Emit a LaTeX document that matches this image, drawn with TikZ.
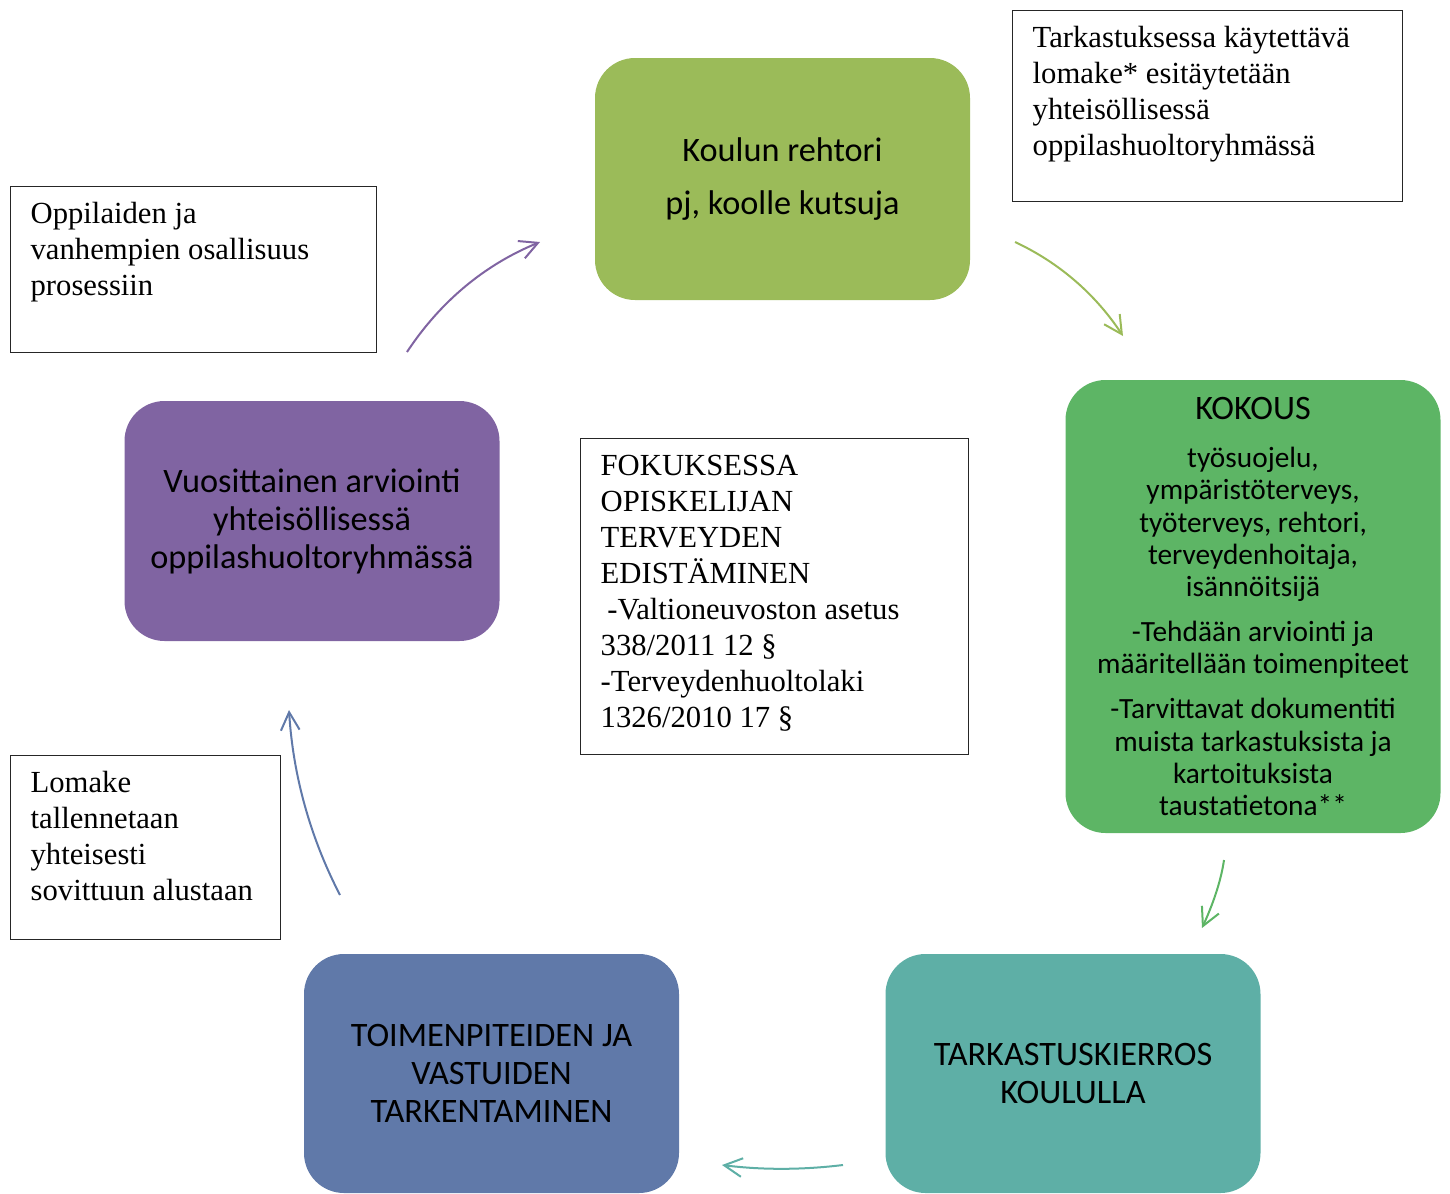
\documentclass[tikz,border=0pt]{standalone}
\usepackage{fontspec}
\setmainfont{Liberation Serif}
\newfontfamily\boxfont{Carlito}
\usepackage{xcolor}
\usetikzlibrary{arrows.meta}

\definecolor{rehtoricol}{HTML}{9BBB59}
\definecolor{kokouscol}{HTML}{5DB565}
\definecolor{arviocol}{HTML}{8064A2}
\definecolor{toimetcol}{HTML}{6079A9}
\definecolor{kierroscol}{HTML}{5EAFA6}

\newcommand{\notetxt}[3]{\parbox[t][\dimexpr#1-18pt\relax][t]{\dimexpr#2-30pt\relax}{\begin{tabular}[t]{@{}l@{}}#3\end{tabular}}}

\tikzset{
  stepbox/.style={rounded corners=30pt, minimum width=281.25pt, align=center, inner sep=0pt,
    font=\boxfont\fontsize{25.7}{28.5}\selectfont},
  notebox/.style={draw=black!85, line width=1pt, fill=white, anchor=north west, inner xsep=15pt, inner ysep=9pt,
    font=\fontsize{23}{27}\selectfont},
  cyclearrow/.style={line width=1.5pt, -{Straight Barb[length=13.5pt,width=14pt]}}
}

\begin{document}
\begin{tikzpicture}[x=0.75pt,y=-0.75pt]
\useasboundingbox (0,0) rectangle (1450,1193);

\node[stepbox, fill=rehtoricol, minimum height=181.5pt] (rehtori) at (782.5,179) {Koulun rehtori\\[11.25pt]pj, koolle kutsuja};
\node[stepbox, fill=kokouscol, minimum height=339.75pt, font=\boxfont\fontsize{22}{24.2}\selectfont] (kokous) at (1253,606.5)
  {{\fontsize{25.7}{28.5}\selectfont KOKOUS}\\[12pt]työsuojelu,\\ympäristöterveys,\\työterveys, rehtori,\\terveydenhoitaja,\\isännöitsijä\\[9.5pt]-Tehdään arviointi ja\\määritellään toimenpiteet\\[9.5pt]-Tarvittavat dokumentiti\\muista tarkastuksista ja\\kartoituksista\\taustatietona**};
\node[stepbox, fill=kierroscol, minimum height=179.25pt] (kierros) at (1073,1073.5) {TARKASTUSKIERROS\\KOULULLA};
\node[stepbox, fill=toimetcol, minimum height=179.25pt] (toimet) at (491.5,1073.5) {TOIMENPITEIDEN JA\\VASTUIDEN\\TARKENTAMINEN};
\node[stepbox, fill=arviocol, minimum height=180pt] (arvio) at (312,521) {Vuosittainen arviointi\\yhteisöllisessä\\oppilashuoltoryhmässä};

\node[notebox] (lomakeohje) at (1012,10) {\notetxt{143.25pt}{292.5pt}{Tarkastuksessa käytettävä\\lomake* esitäytetään\\yhteisöllisessä\\oppilashuoltoryhmässä}};
\node[notebox] (osallisuus) at (10,186) {\notetxt{124.5pt}{274.5pt}{Oppilaiden ja\\vanhempien osallisuus\\prosessiin}};
\node[notebox] (fokus) at (580,438) {\notetxt{237pt}{291pt}{FOKUKSESSA\\OPISKELIJAN\\TERVEYDEN\\EDISTÄMINEN\\\hspace{5pt}-Valtioneuvoston asetus\\338/2011 12 §\\-Terveydenhuoltolaki\\1326/2010 17 §}};
\node[notebox] (tallennus) at (10,755) {\notetxt{138pt}{202.5pt}{Lomake\\tallennetaan\\yhteisesti\\sovittuun alustaan}};

\coordinate (arvio-out) at (407,352);
\coordinate (rehtori-in) at (540,242);
\coordinate (rehtori-out) at (1015,242);
\coordinate (kokous-in) at (1123,336);
\coordinate (kokous-out) at (1224,860);
\coordinate (kierros-in) at (1202,928);
\coordinate (kierros-out) at (843,1165);
\coordinate (toimet-in) at (722,1165);
\coordinate (toimet-out) at (340,895);
\coordinate (arvio-in) at (289,710);

\draw[cyclearrow, draw=arviocol] (arvio-out) .. controls (440,302) and (484,265) .. (rehtori-in);
\draw[cyclearrow, draw=rehtoricol] (rehtori-out) .. controls (1060,263) and (1096,295) .. (kokous-in);
\draw[cyclearrow, draw=kokouscol] (kokous-out) .. controls (1221,881) and (1213,904) .. (kierros-in);
\draw[cyclearrow, draw=kierroscol] (kierros-out) .. controls (802,1170) and (762,1170) .. (toimet-in);
\draw[cyclearrow, draw=toimetcol] (toimet-out) .. controls (310,837) and (293,775) .. (arvio-in);
\end{tikzpicture}
\end{document}
